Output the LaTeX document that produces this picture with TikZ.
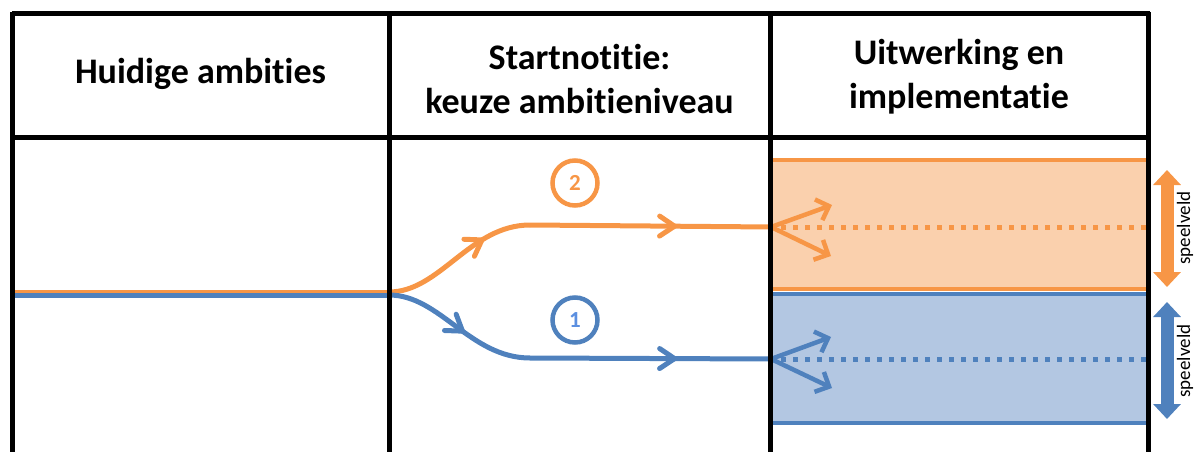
\documentclass[tikz,border=0pt]{standalone}
\usepackage{fontspec}
\setmainfont{Carlito}[Ligatures=NoCommon]
\usetikzlibrary{arrows.meta,decorations.markings}
\definecolor{ora}{HTML}{F79646}
\definecolor{blu}{HTML}{4F81BD}
\definecolor{orafill}{HTML}{FAD0AD}
\definecolor{blufill}{HTML}{B3C7E2}
\definecolor{numblu}{HTML}{5B8FE0}
\tikzset{
  grid/.style={line width=5pt, black},
  head/.style={font=\bfseries\fontsize{36}{44}\selectfont, align=center},
  pathline/.style={line width=5pt},
  midarrow/.style={postaction={decorate, decoration={markings, mark=at position #1 with {\draw[line width=5pt, line cap=round, line join=miter] (-15pt,10pt) -- (0pt,0pt) -- (-15pt,-10pt);}}}},
  numcircle/.style={circle, line width=4.5pt, minimum size=45pt, inner sep=0pt, font=\bfseries\fontsize{23}{25}\selectfont},
  fan/.style={line width=4.5pt, -{Straight Barb[length=11pt, width=22pt, line width=4.5pt]}},
  dotline/.style={line width=5pt, dash pattern=on 4.5pt off 7.5pt},
  band/.style={line width=4.5pt},
  dblarrow/.style={line width=13pt, {Triangle[length=15pt, width=27pt]}-{Triangle[length=15pt, width=27pt]}},
  spl/.style={rotate=90, font=\fontsize{19}{21}\selectfont}
}
\begin{document}
\begin{tikzpicture}[x=1pt,y=-1pt]
\useasboundingbox (0,0) rectangle (1194,452);
% bands
\fill[orafill] (770,160) rectangle (1148,290);
\fill[blufill] (770,293) rectangle (1148,423);
\draw[band, ora] (770,160) -- (1148,160);
\draw[band, ora] (770,289) -- (1148,289);
\draw[band, blu] (770,294) -- (1148,294);
\draw[band, blu] (770,423) -- (1148,423);
% coordinates
\coordinate (startO) at (12,292);
\coordinate (startB) at (12,295);
\coordinate (forkO) at (389,292);
\coordinate (forkB) at (389,295);
\coordinate (bendO) at (530,225);
\coordinate (bendB) at (530,358);
\coordinate (endO) at (771,227);
\coordinate (endB) at (771,359);
\coordinate (dotEndO) at (1148,227);
\coordinate (dotEndB) at (1148,359);
\coordinate (fanO1) at (832,205);
\coordinate (fanO2) at (831,256);
\coordinate (fanB1) at (831,337);
\coordinate (fanB2) at (832,388);
% dotted
\draw[dotline, ora] (endO) ++(10,0) -- (dotEndO);
\draw[dotline, blu] (endB) ++(10,0) -- (dotEndB);
% main lines
\draw[pathline, ora] (startO) -- (forkO);
\draw[pathline, blu] (startB) -- (forkB);
\draw[pathline, ora, midarrow=0.68] (forkO) .. controls (440,292) and (470,225) .. (bendO);
\draw[pathline, ora, midarrow=0.6] (bendO) -- (endO);
\draw[pathline, blu, midarrow=0.53] (forkB) .. controls (440,295) and (470,358) .. (bendB);
\draw[pathline, blu, midarrow=0.6] (bendB) -- (endB);
% fans
\draw[fan, ora] (endO) -- (fanO1);
\draw[fan, ora] (endO) -- (fanO2);
\draw[fan, blu] (endB) -- (fanB1);
\draw[fan, blu] (endB) -- (fanB2);
% circles
\node[numcircle, draw=ora, text=ora] (c2) at (575,183) {2};
\node[numcircle, draw=blu, text=numblu] (c1) at (575,320) {1};
% double arrows
\coordinate (dA1) at (1167,170);
\coordinate (dA2) at (1167,287);
\coordinate (dB1) at (1167,302);
\coordinate (dB2) at (1167,419);
\draw[dblarrow, ora] (dA1) -- (dA2);
\draw[dblarrow, blu] (dB1) -- (dB2);
\node[spl] (s1) at (1185,228) {speelveld};
\node[spl] (s2) at (1185,361) {speelveld};
% grid
\draw[grid] (12,14) -- (1150,14);
\draw[grid] (12,137) -- (1150,137);
\draw[grid] (12,12) -- (12,452);
\draw[grid] (389,12) -- (389,452);
\draw[grid] (770,12) -- (770,452);
\draw[grid] (1148,12) -- (1148,452);
% headers
\node[head] (h1) at (200.5,74) {Huidige ambities};
\node[head] (h2) at (579.5,79) {Startnotitie:\\keuze ambitieniveau};
\node[head] (h3) at (959,77) {Uitwerking en\\implementatie};
\end{tikzpicture}
\end{document}
